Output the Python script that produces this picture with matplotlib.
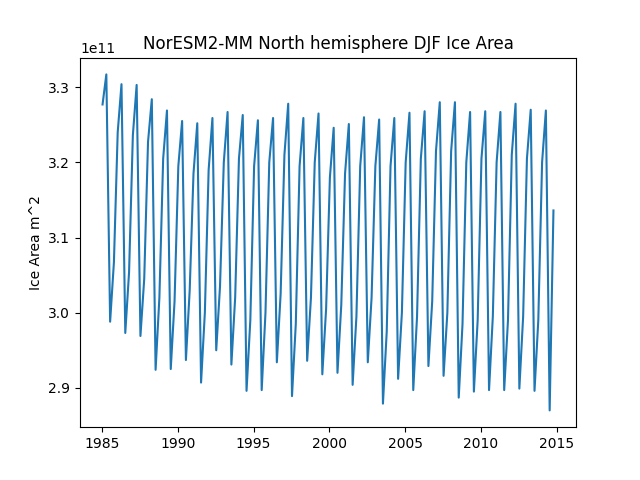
import numpy as np
import matplotlib
matplotlib.use("Agg")
import matplotlib.pyplot as plt

years = np.arange(1985, 2015)

# four values per year (in 1e11 m^2)
q1 = [3.277, 3.240, 3.236, 3.227, 3.205, 3.195, 3.185, 3.190, 3.200, 3.205,
      3.195, 3.200, 3.210, 3.195, 3.200, 3.180, 3.185, 3.195, 3.195, 3.195,
      3.200, 3.205, 3.215, 3.215, 3.200, 3.205, 3.200, 3.210, 3.205, 3.200]
peak = [3.317, 3.304, 3.303, 3.284, 3.269, 3.255, 3.252, 3.259, 3.267, 3.263,
        3.256, 3.259, 3.278, 3.259, 3.265, 3.246, 3.251, 3.260, 3.257, 3.259,
        3.266, 3.268, 3.280, 3.280, 3.267, 3.268, 3.267, 3.278, 3.270, 3.269]
low = [2.988, 2.973, 2.969, 2.924, 2.925, 2.937, 2.907, 2.950, 2.931, 2.896,
       2.897, 2.934, 2.889, 2.936, 2.918, 2.920, 2.904, 2.934, 2.879, 2.912,
       2.897, 2.929, 2.916, 2.887, 2.895, 2.897, 2.897, 2.899, 2.896, 2.870]
q4 = [3.067, 3.054, 3.045, 3.020, 3.015, 3.030, 3.000, 3.035, 3.020, 2.990,
      3.000, 3.025, 2.985, 3.020, 3.005, 3.010, 2.995, 3.020, 2.975, 3.000,
      2.995, 3.015, 3.000, 2.985, 2.990, 2.995, 2.990, 2.995, 2.990, 3.136]

frac = np.array([0.04, 0.29, 0.54, 0.79])
t = (years[:, None] + frac[None, :]).ravel()
area = np.column_stack([q1, peak, low, q4]).ravel() * 1e11

fig, ax = plt.subplots(figsize=(6.4, 4.8), dpi=100)
ax.plot(t, area)
ax.set_title("NorESM2-MM North hemisphere DJF Ice Area")
ax.set_ylabel("Ice Area m^2")
fig.savefig("out.png")
